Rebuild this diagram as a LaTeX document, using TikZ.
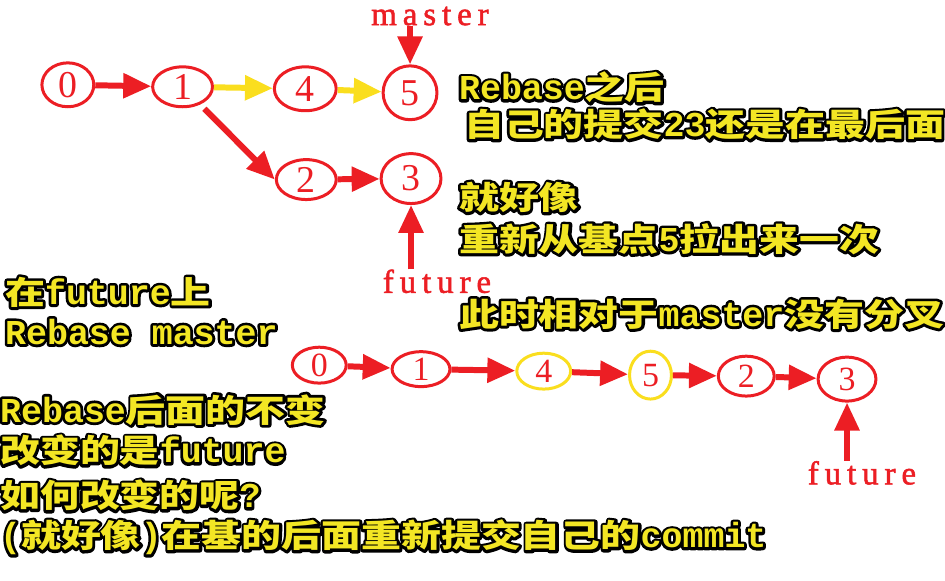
\documentclass[tikz,border=0pt]{standalone}
\usepackage{fontspec}
\usetikzlibrary{arrows.meta,shapes.geometric}
\setmainfont{Liberation Mono}
\newfontfamily\cjk[FakeStretch=1.25]{Noto Sans CJK SC}
\newfontfamily\numfont{Liberation Serif}
\newfontfamily\labelfont[FakeBold=1.6,LetterSpace=18]{Liberation Serif}
\definecolor{gitred}{RGB}{236,30,36}
\definecolor{arrowyellow}{RGB}{250,222,30}
\definecolor{txtyellow}{RGB}{243,230,36}
\newcommand\zh[1]{{\cjk\bfseries\fontsize{32}{38}\selectfont #1}}
\newcommand\outl[1]{\leavevmode\rlap{\color{black}\special{pdf:literal direct 1 j 2 Tr 5.5 w}#1\special{pdf:literal direct 0 Tr}}#1}
\begin{document}
\begin{tikzpicture}[x=1pt,y=-1pt,
  commit/.style={ellipse, draw=gitred, line width=3pt, inner sep=0pt, text=gitred, font=\numfont\fontsize{38}{38}\selectfont},
  bcommit/.style={commit, font=\numfont\fontsize{34}{34}\selectfont},
  ycommit/.style={bcommit, draw=arrowyellow},
  redarrow/.style={draw=gitred, line width=6pt, -{Triangle[length=28pt,width=24pt]}},
  yelarrow/.style={redarrow, draw=arrowyellow},
  note/.style={anchor=base west, inner sep=0pt, text=txtyellow, font=\bfseries\fontsize{35}{40}\selectfont},
  branch/.style={inner sep=0pt, text=gitred, font=\labelfont\fontsize{33}{33}\selectfont}]
\path[fill=white] (0,0) rectangle (945,582);
% top graph
\node[commit, minimum width=52pt, minimum height=44pt] (t0) at (68,85) {0};
\node[commit, minimum width=60pt, minimum height=40pt] (t1) at (183,87) {1};
\node[commit, minimum width=62pt, minimum height=44pt] (t4) at (306,89) {4};
\node[commit, minimum width=54pt, minimum height=54pt] (t5) at (411,93) {5};
\node[commit, minimum width=60pt, minimum height=40pt] (t2) at (307,180) {2};
\node[commit, minimum width=60pt, minimum height=50pt] (t3) at (412,179) {3};
\node[branch] (master) at (431,16) {master};
\node[branch] (ftop) at (438,282) {future};
\draw[redarrow] (t0) -- (t1);
\draw[yelarrow] (t1) -- (t4);
\draw[yelarrow] (t4) -- (t5);
\draw[redarrow, shorten <=6pt] (t1) -- (t2.west);
\draw[redarrow] (t2) -- (t3);
\draw[redarrow] (master.south -| t5.north) -- (t5.north);
\draw[redarrow] (ftop.north -| t3.south) -- (t3.south);
% bottom graph
\node[bcommit, minimum width=54pt, minimum height=36pt] (b0) at (320,366) {0};
\node[bcommit, minimum width=58pt, minimum height=35pt] (b1) at (422,370) {1};
\node[ycommit, minimum width=54pt, minimum height=36pt] (b4) at (545,372) {4};
\node[ycommit, minimum width=42pt, minimum height=48pt] (b5) at (652,376) {5};
\node[bcommit, minimum width=56pt, minimum height=40pt] (b2) at (748,377) {2};
\node[bcommit, minimum width=58pt, minimum height=44pt] (b3) at (849,380) {3};
\node[branch] (fbot) at (864,474) {future};
\draw[redarrow] (b0) -- (b1);
\draw[redarrow] (b1) -- (b4);
\draw[redarrow] (b4) -- (b5);
\draw[redarrow] (b5) -- (b2);
\draw[redarrow] (b2) -- (b3);
\draw[redarrow] (fbot.north -| b3.south) -- (b3.south);
% notes
\node[note] (r1) at (460,100) {\outl{Rebase\zh{之后}}};
\node[note] (r2) at (465,137) {\outl{\zh{自己的提交}23\zh{还是在最后面}}};
\node[note] (r3) at (460,210) {\outl{\zh{就好像}}};
\node[note] (r4) at (460,252) {\outl{\zh{重新从基点}5\zh{拉出来一次}}};
\node[note] (r5) at (460,327) {\outl{\zh{此时相对于}master\zh{没有分叉}}};
\node[note] (l1) at (5,305) {\outl{\zh{在}future\zh{上}}};
\node[note] (l2) at (5,345) {\outl{Rebase master}};
\node[note] (l3) at (0,423) {\outl{Rebase\zh{后面的不变}}};
\node[note] (l4) at (0,464) {\outl{\zh{改变的是}future}};
\node[note] (l5) at (0,509) {\outl{\zh{如何改变的呢}?}};
\node[note] (l6) at (0,549) {\outl{(\zh{就好像})\zh{在基的后面重新提交自己的}commit}};
\end{tikzpicture}
\end{document}
